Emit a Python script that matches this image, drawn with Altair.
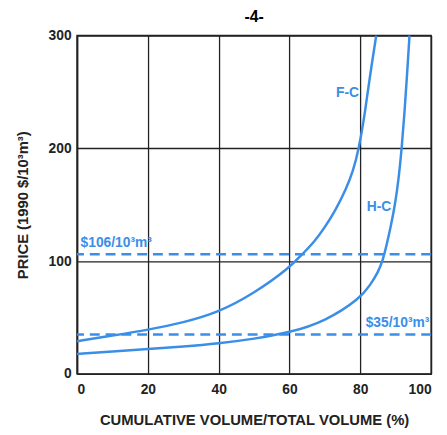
import altair as alt
import pandas as pd

# F-C curve (upper)
fc_x = [0, 10, 20, 30, 40, 50, 60, 63.7, 67, 70, 73, 76, 78, 79.6, 81.0, 82.1, 83.3, 84.5]
fc_y = [29, 34, 39, 45.5, 54.6, 71.4, 94, 106.5, 117, 130, 145, 164, 180, 200, 225, 250, 276, 300]
# H-C curve (lower)
hc_x = [0, 10, 20, 30, 40, 50, 60, 70, 80, 82.8, 85, 86.3, 87.5, 88.7, 89.8, 90.8, 91.7, 92.5, 93.2, 93.9]
hc_y = [17.7, 19.8, 22, 24.2, 27, 31, 36.6, 46.4, 67, 78.8, 90, 100, 115, 132, 150, 172, 200, 232, 265, 300]

ref_prices = [106, 35]
ref_labels = ["$106/10³m³", "$35/10³m³"]
ref_label_x = [1, 99.5]
ref_label_y = [110, 39]
ref_align = ["left", "right"]

curve_labels = ["F-C", "H-C"]
curve_label_x = [76.4, 85.3]
curve_label_y = [249, 148]

x_ticks = [0, 20, 40, 60, 80, 100]
y_ticks = [0, 100, 200, 300]

BLUE = "#3b8ee8"
FONT = "Liberation Sans"

curves = pd.DataFrame(
    {"x": fc_x + hc_x, "y": fc_y + hc_y,
     "series": ["F-C"] * len(fc_x) + ["H-C"] * len(hc_x),
     "order": list(range(len(fc_x))) + list(range(len(hc_x)))}
)
refs = pd.DataFrame({"y": ref_prices})
rlab = pd.DataFrame({"x": ref_label_x, "y": ref_label_y, "t": ref_labels, "a": ref_align})
clab = pd.DataFrame({"x": curve_label_x, "y": curve_label_y, "t": curve_labels})

xsc = alt.Scale(domain=[0, 100], nice=False, zero=False)
ysc = alt.Scale(domain=[0, 300], nice=False)

xax = alt.Axis(values=x_ticks, title="CUMULATIVE VOLUME/TOTAL VOLUME  (%)", grid=True,
               ticks=False, labelPadding=9, titlePadding=16)
yax = alt.Axis(values=y_ticks, title="PRICE (1990 $/10³m³)", grid=True,
               ticks=False, labelPadding=6, titlePadding=18)

lines = alt.Chart(curves).mark_line(color=BLUE, strokeWidth=2.5, interpolate="basis").encode(
    x=alt.X("x:Q", scale=xsc, axis=xax),
    y=alt.Y("y:Q", scale=ysc, axis=yax),
    detail="series:N",
    order="order:Q",
)

rules = alt.Chart(refs).mark_rule(color=BLUE, strokeWidth=2.5, strokeDash=[10, 6]).encode(
    y=alt.Y("y:Q", scale=ysc)
)

rtext_left = alt.Chart(rlab[rlab.a == "left"]).mark_text(
    color=BLUE, font=FONT, fontSize=14, fontWeight="bold", align="left", baseline="bottom"
).encode(x=alt.X("x:Q", scale=xsc), y=alt.Y("y:Q", scale=ysc), text="t:N")

rtext_right = alt.Chart(rlab[rlab.a == "right"]).mark_text(
    color=BLUE, font=FONT, fontSize=14, fontWeight="bold", align="right", baseline="bottom"
).encode(x=alt.X("x:Q", scale=xsc), y=alt.Y("y:Q", scale=ysc), text="t:N")

ctext = alt.Chart(clab).mark_text(
    color=BLUE, font=FONT, fontSize=14, fontWeight="bold", align="center", baseline="middle"
).encode(x=alt.X("x:Q", scale=xsc), y=alt.Y("y:Q", scale=ysc), text="t:N")

chart = alt.layer(lines, rules, rtext_left, rtext_right, ctext).properties(
    width=359, height=343,
    background="white",
    title=alt.TitleParams("-4-", font=FONT, fontSize=16, fontWeight="bold", anchor="middle", offset=4),
    autosize=alt.AutoSizeParams(type="none"),
    padding={"left": 70, "top": 25, "right": 8, "bottom": 58},
).configure_view(stroke="#222", strokeWidth=1.5).configure_axis(
    gridColor="#222", gridWidth=1.3, gridOpacity=1, domainColor="#222", domainWidth=1.5,
    labelFont=FONT, labelFontSize=14, labelFontWeight="bold", labelColor="#222",
    titleFont=FONT, titleFontSize=15, titleFontWeight="bold", titleColor="#222",
)

chart.save("out.html", embed_options={"renderer": "svg", "actions": False})
